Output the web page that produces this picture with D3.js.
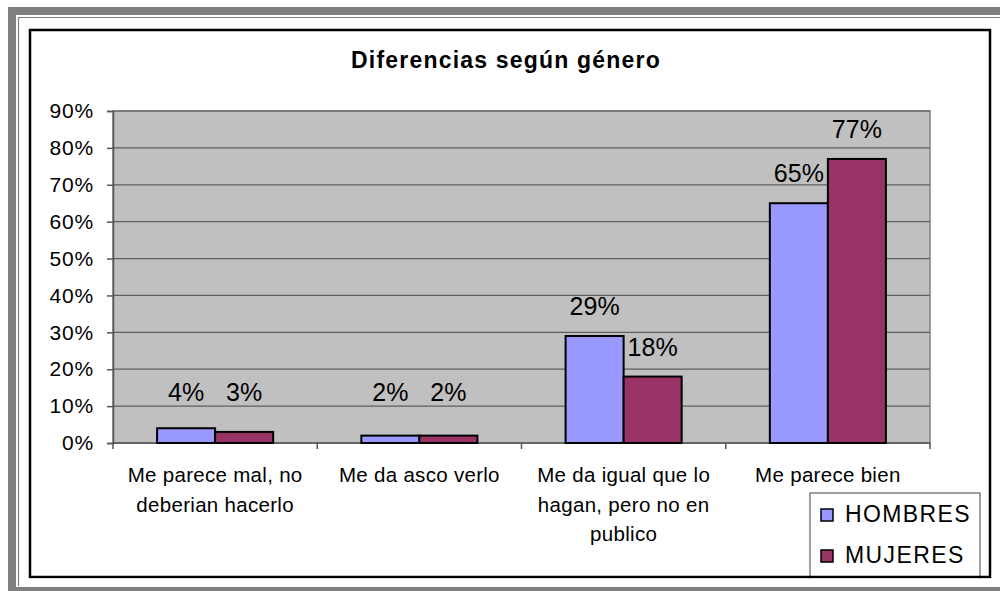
<!DOCTYPE html>
<html>
<head>
<meta charset="utf-8">
<script src="https://cdn.jsdelivr.net/npm/d3@7"></script>
<style>
  html, body { margin: 0; padding: 0; background: #fff; }
  svg { display: block; font-family: Arial, "Liberation Sans", sans-serif; }
</style>
</head>
<body>
<div id="chart"></div>
<script>
// Chart data
const categories = [
    ['Me parece mal, no', 'deberian hacerlo'],
    ['Me da asco verlo'],
    ['Me da igual que lo', 'hagan, pero no en', 'publico'],
    ['Me parece bien']
];
const seriesNames = ['HOMBRES', 'MUJERES'];
const hombres = [0.04, 0.02, 0.29, 0.65];
const mujeres = [0.03, 0.02, 0.18, 0.77];
const yTicks = [0, 0.1, 0.2, 0.3, 0.4, 0.5, 0.6, 0.7, 0.8, 0.9];
const colors = ['#9999FF', '#993366'];

const W = 1000, H = 591;
const plot = { left: 113, right: 930, top: 111, bottom: 443 };

const svg = d3.select('#chart')
    .append('svg')
    .attr('width', W)
    .attr('height', H);

// Outer frame
svg.append('rect').attr('x', 8).attr('y', 7).attr('width', W - 8).attr('height', 8).attr('fill', '#808080');
svg.append('rect').attr('x', 8).attr('y', 7).attr('width', 8).attr('height', H - 7).attr('fill', '#808080');
svg.append('rect').attr('x', 8).attr('y', 587).attr('width', W - 8).attr('height', 4).attr('fill', '#808080');
svg.append('path')
    .attr('d', 'M18.5,' + (H - 5) + 'V17.5H' + W)
    .attr('fill', 'none')
    .attr('stroke', '#808080')
    .attr('stroke-width', 1.2);

// Chart area
svg.append('rect')
    .attr('x', 30).attr('y', 30)
    .attr('width', 960).attr('height', 547)
    .attr('fill', '#fff');

// Plot area
const x0 = d3.scaleBand()
    .domain(d3.range(categories.length))
    .range([plot.left, plot.right]);

const x1 = d3.scaleBand()
    .domain(seriesNames)
    .range([0, x0.bandwidth()])
    .paddingOuter(0.76)
    .paddingInner(0);

const y = d3.scaleLinear()
    .domain([0, 0.9])
    .range([plot.bottom, plot.top]);

svg.append('rect')
    .attr('x', plot.left).attr('y', plot.top)
    .attr('width', plot.right - plot.left)
    .attr('height', plot.bottom - plot.top)
    .attr('fill', '#C0C0C0')
    .attr('stroke', '#808080')
    .attr('stroke-width', 1.5);

// Gridlines
svg.append('g')
    .selectAll('line')
    .data(yTicks.slice(1))
    .join('line')
    .attr('x1', plot.left).attr('x2', plot.right)
    .attr('y1', d => y(d)).attr('y2', d => y(d))
    .attr('stroke', '#5f5f5f')
    .attr('stroke-width', 1.2);

// Y axis
const yAxis = svg.append('g')
    .attr('transform', `translate(${plot.left},0)`)
    .call(d3.axisLeft(y)
        .tickValues(yTicks)
        .tickFormat(d3.format('.0%'))
        .tickSize(6)
        .tickPadding(13));
yAxis.select('.domain').attr('stroke', '#555').attr('stroke-width', 1.5);
yAxis.selectAll('.tick line').attr('stroke', '#555').attr('stroke-width', 1.5);
yAxis.selectAll('.tick text')
    .attr('font-size', 21)
    .attr('letter-spacing', 0.8)
    .attr('font-family', 'Arial, "Liberation Sans", sans-serif')
    .attr('fill', '#000');

// X axis
const xAxis = svg.append('g')
    .attr('transform', `translate(0,${plot.bottom})`);
xAxis.append('line')
    .attr('x1', plot.left).attr('x2', plot.right)
    .attr('stroke', '#555').attr('stroke-width', 1.5);
xAxis.selectAll('.xtick')
    .data(d3.range(categories.length + 1))
    .join('line')
    .attr('class', 'xtick')
    .attr('x1', d => plot.left + d * x0.step())
    .attr('x2', d => plot.left + d * x0.step())
    .attr('y1', 0).attr('y2', 6)
    .attr('stroke', '#555').attr('stroke-width', 1.5);

const catLabels = svg.append('g')
    .selectAll('text')
    .data(categories)
    .join('text')
    .attr('text-anchor', 'middle')
    .attr('font-size', 20.5)
    .attr('letter-spacing', 0.3)
    .attr('fill', '#000');
catLabels.selectAll('tspan')
    .data(d => d)
    .join('tspan')
    .attr('x', function() {
        const i = categories.indexOf(d3.select(this.parentNode).datum());
        return x0(i) + x0.bandwidth() / 2;
    })
    .attr('y', (d, i) => 482 + i * 29.5)
    .text(d => d);

// Bars
const rows = categories.map((c, i) => [
    { key: seriesNames[0], value: hombres[i], color: colors[0] },
    { key: seriesNames[1], value: mujeres[i], color: colors[1] }
]);

const groups = svg.append('g')
    .selectAll('g')
    .data(rows)
    .join('g')
    .attr('transform', (d, i) => `translate(${x0(i)},0)`);

groups.selectAll('rect')
    .data(d => d)
    .join('rect')
    .attr('x', d => x1(d.key))
    .attr('y', d => y(d.value))
    .attr('width', x1.bandwidth())
    .attr('height', d => y(0) - y(d.value))
    .attr('fill', d => d.color)
    .attr('stroke', '#000')
    .attr('stroke-width', 2);

// Data labels
groups.selectAll('text')
    .data(d => d)
    .join('text')
    .attr('x', d => x1(d.key) + x1.bandwidth() / 2)
    .attr('y', d => Math.min(y(d.value) - 21, y(0) - 42))
    .attr('text-anchor', 'middle')
    .attr('font-size', 25)
    .attr('fill', '#000')
    .text(d => d3.format('.0%')(d.value));

// Title
svg.append('text')
    .attr('x', 506)
    .attr('y', 68)
    .attr('text-anchor', 'middle')
    .attr('font-size', 23)
    .attr('letter-spacing', 1.2)
    .attr('font-weight', 'bold')
    .attr('fill', '#000')
    .text('Diferencias según género');

// Legend (clipped by chart area border)
const legend = svg.append('g');
legend.append('rect')
    .attr('x', 810).attr('y', 493)
    .attr('width', 170).attr('height', 90)
    .attr('fill', '#fff')
    .attr('stroke', '#808080')
    .attr('stroke-width', 1.5);

const items = legend.selectAll('g')
    .data(seriesNames)
    .join('g')
    .attr('transform', (d, i) => `translate(821,${509 + i * 41})`);
items.append('rect')
    .attr('width', 12).attr('height', 12)
    .attr('fill', (d, i) => colors[i])
    .attr('stroke', '#000')
    .attr('stroke-width', 1.5);
items.append('text')
    .attr('x', 24).attr('y', 12.5)
    .attr('font-size', 23)
    .attr('letter-spacing', 1.4)
    .attr('fill', '#000')
    .text(d => d);

// Chart area border on top
svg.append('rect')
    .attr('x', 30).attr('y', 30)
    .attr('width', 960).attr('height', 547)
    .attr('fill', 'none')
    .attr('stroke', '#000')
    .attr('stroke-width', 2.5);
// white strip below the border hides the legend overflow
svg.append('rect')
    .attr('x', 20).attr('y', 578.5)
    .attr('width', W - 20).attr('height', 8)
    .attr('fill', '#fff');
</script>
</body>
</html>
